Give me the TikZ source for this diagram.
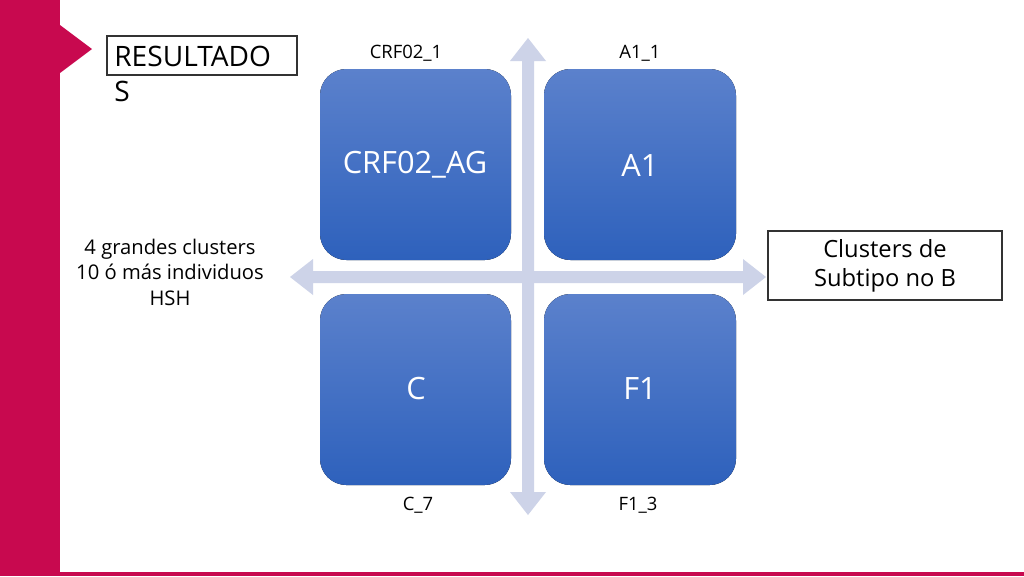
\documentclass[tikz,border=0pt]{standalone}
\usepackage{fontspec}
\setmainfont{Open Sans}
\definecolor{mag}{HTML}{C8094F}
\definecolor{btop}{HTML}{5B81CC}
\definecolor{bbot}{HTML}{2E61BC}
\definecolor{arr}{HTML}{CDD3E8}
\begin{document}
\begin{tikzpicture}[x=0.02cm,y=-0.02cm,
  quad/.style={rounded corners=15pt, top color=btop, bottom color=bbot, draw=none},
  inlbl/.style={text=white, font=\fontsize{17.5}{20}\selectfont},
  small/.style={font=\fontsize{10.5}{12}\selectfont},
  side/.style={font=\fontsize{11.5}{14.5}\selectfont, align=center}]
\useasboundingbox (0,0) rectangle (1024,576);
\fill[white] (0,0) rectangle (1024,576);
% left band and notch
\fill[mag] (0,0) rectangle (60,576);
\fill[mag] (60,25) -- (92,49) -- (60,73) -- cycle;
\fill[mag] (60,572) rectangle (1024,576);
% RESULTADOS
\draw[line width=0.6pt, draw=black!80] (107,36) rectangle (297,75);
\node[anchor=north west, align=left, inner sep=0pt, font=\fontsize{16}{19.5}\selectfont] (res) at (114,46) {RESULTADO\\S};
% quadrant boxes
\fill[quad] (320,69) rectangle (511,260);
\fill[quad] (544,69) rectangle (736,260);
\fill[quad] (320,294) rectangle (511,485);
\fill[quad] (544,294) rectangle (736,485);
% arrows
\fill[arr] (528,38) -- (546,61) -- (534,61) -- (534,492) -- (546,492) -- (528,515) -- (510,492) -- (522,492) -- (522,61) -- (510,61) -- cycle;
\fill[arr] (290,277) -- (313,259) -- (313,271) -- (743,271) -- (743,259) -- (766,277) -- (743,295) -- (743,283) -- (313,283) -- (313,295) -- cycle;
% inner labels
\node[inlbl] (crfag) at (415,165) {CRF02\_AG};
\node[inlbl] (a1) at (640,165) {A1};
\node[inlbl] (c) at (416,389) {C};
\node[inlbl] (f1) at (640,389) {F1};
% small labels
\node[small] (crf1) at (406,53) {CRF02\_1};
\node[small] (a11) at (640,53) {A1\_1};
\node[small] (c7) at (418,505) {C\_7};
\node[small] (f13) at (638,505) {F1\_3};
% side texts
\node[side] (left) at (170,272) {4 grandes clusters\\10 ó más individuos\\HSH};
\draw[line width=0.6pt, draw=black!80] (768,231) rectangle (1002,300);
\node[side, font=\fontsize{13.5}{16.5}\selectfont] (right) at (885,266) {Clusters de\\Subtipo no B};
\end{tikzpicture}
\end{document}
